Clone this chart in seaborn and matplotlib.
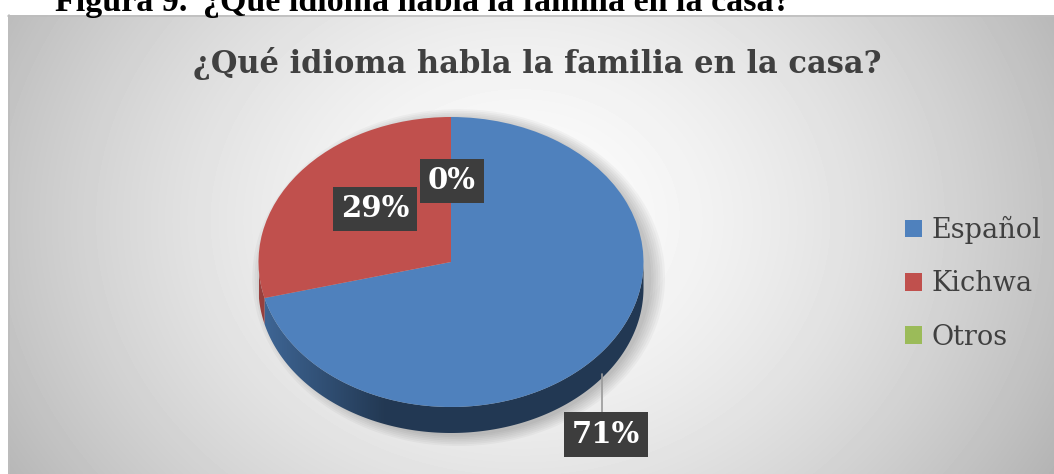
import numpy as np
import matplotlib
matplotlib.use("Agg")
import matplotlib.pyplot as plt
import seaborn as sns
from matplotlib.patches import Polygon, Ellipse
from matplotlib.colors import to_rgb

# ---- data ----
categories = ["Español", "Kichwa", "Otros"]
values = [71, 29, 0]
pct_labels = ["71%", "29%", "0%"]
title = "¿Qué idioma habla la familia en la casa?"
caption_num = "Figura 9."
caption_text = "¿Qué idioma habla la familia en la casa?"

sns.set_theme(style="white")
plt.rcParams['font.family'] = ['DejaVu Serif', 'DejaVu Sans']
colors = sns.color_palette(["#4F81BD", "#C0504D", "#9BBB59"])

W, H = 1054, 474
fig = plt.figure(figsize=(W / 100, H / 100), dpi=100)
fig.patch.set_facecolor("white")

# ---- background (pixel coordinates) ----
bg = fig.add_axes([0, 0, 1, 1])
bg.set_xlim(0, W)
bg.set_ylim(H, 0)
bg.axis("off")
yy, xx = np.mgrid[15:H, 8:W]
r = np.sqrt(((xx - 520) / 522.0) ** 2 + ((yy - 220) / 430.0) ** 2)
v = 0.99 - 0.22 * r ** 1.6
bg.imshow(v, cmap="gray", vmin=0, vmax=1, extent=(8, W, H, 15),
          aspect="auto", zorder=0, interpolation="bilinear")
bg.plot([8, W], [15.5, 15.5], color="#bdbdbd", lw=1.2, zorder=1)
bg.plot([8.5, 8.5], [15, H], color="#bdbdbd", lw=1.2, zorder=1)
cap_kw = dict(family="Liberation Serif", weight="bold", fontsize=24.5,
              va="baseline", ha="left", color="black", zorder=2)
bg.text(55, 11, caption_num, **cap_kw)
bg.text(203, 11, caption_text, **cap_kw)
bg.text(537, 63, title, fontsize=22, weight="bold", color="#404040",
        ha="center", va="center", zorder=2)

# ---- pie axes: top face ellipse plus extrusion depth ----
cx, cy, rx, ry = 451, 262, 192.5, 145
dpx = 26
depth = dpx / ry
pax = fig.add_axes([(cx - rx) / W, 1 - (cy + ry + dpx) / H,
                    2 * rx / W, (2 * ry + dpx) / H])

# soft shadow
for i in range(7):
    pax.add_patch(Ellipse((0.04, -depth * 0.6), 2 * (1 + 0.012 * i),
                          2 * (1 + 0.012 * i) + depth, color="black",
                          alpha=0.03, lw=0, zorder=0, clip_on=False))

wedges, _ = pax.pie(values, colors=colors, startangle=90, counterclock=False,
                    wedgeprops=dict(linewidth=0, zorder=5))
for w in wedges:
    w.set_clip_on(False)

# side (extrusion) of the visible front half
def shade(x):
    return 0.55 + 0.45 * np.clip((-0.35 - x) / 0.65, 0, 1)

xs = np.linspace(-1, 1, 400)
for w, col in zip(wedges, colors):
    t1, t2 = w.theta1, w.theta2
    for k in (-1, 0, 1):
        a = max(t1, 180 + 360 * k)
        b = min(t2, 360 + 360 * k)
        if b <= a:
            continue
        t = np.radians(np.linspace(a, b, 200))
        top = np.column_stack([np.cos(t), np.sin(t)])
        bot = np.column_stack([np.cos(t), np.sin(t) - depth])[::-1]
        poly = Polygon(np.vstack([top, bot]), closed=True, facecolor="none",
                       edgecolor="none", transform=pax.transData)
        pax.add_patch(poly)
        base = np.array(to_rgb(col)) * 0.8
        img = (base[None, :] * shade(xs)[:, None])[None, :, :]
        img = np.repeat(img, 2, axis=0)
        im = pax.imshow(img, extent=(-1, 1, -1 - depth, 0.05),
                        aspect="auto", zorder=3, interpolation="bilinear")
        im.set_clip_path(poly)

pax.set_aspect("auto")
pax.set_xlim(-1, 1)
pax.set_ylim(-1 - depth, 1)
pax.axis("off")

# ---- data labels ----
box = dict(boxstyle="square,pad=0.26", facecolor="#3d3d3d", edgecolor="none")
lab_kw = dict(fontsize=21, weight="bold", color="white", ha="center",
              va="center", zorder=10, bbox=box)
for w, lab, val in zip(wedges, pct_labels, values):
    mid = np.radians((w.theta1 + w.theta2) / 2)
    if val >= 50:
        lx = np.cos(mid) * 1.02
        edge_y = -np.sqrt(max(1 - lx ** 2, 0)) - depth
        ly = -1.19
        pax.plot([lx - 0.02, lx - 0.02], [edge_y, ly + 0.15], color="#9a9a9a",
                 lw=1.2, zorder=4, clip_on=False)
        pax.text(lx, ly, lab, clip_on=False, **lab_kw)
    elif val == 0:
        pax.text(0.005, 0.56, lab, clip_on=False, **lab_kw)
    else:
        pax.text(np.cos(mid) * 0.5, np.sin(mid) * 0.5 + 0.06, lab,
                 clip_on=False, **lab_kw)

# ---- legend ----
fig.legend(handles=wedges, labels=categories, loc="upper left",
           bbox_to_anchor=(905 / W, 1 - 216 / H), frameon=False,
           fontsize=19.5, labelcolor="#404040", handlelength=0.62,
           handleheight=0.62, handletextpad=0.35, labelspacing=0.97,
           borderpad=0, borderaxespad=0)

fig.savefig("out.png", dpi=100)
